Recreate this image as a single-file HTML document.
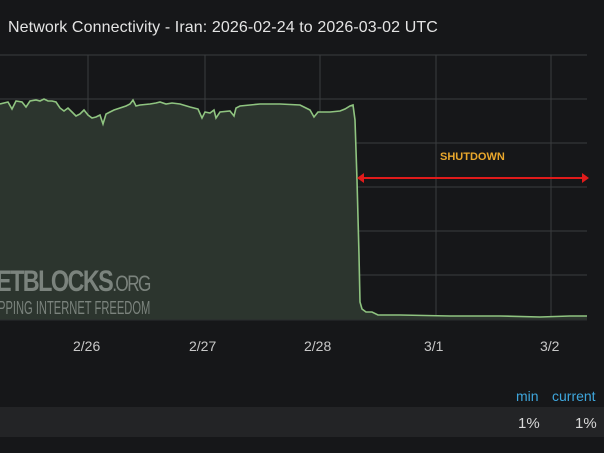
<!DOCTYPE html>
<html><head><style>
body{margin:0;width:604px;height:453px;background:#161719;overflow:hidden;font-family:"Liberation Sans",sans-serif;position:relative}
.t{position:absolute;white-space:nowrap}
</style></head><body>
<div class="t" style="left:8px;top:19px;font-size:16px;color:#e4e4e4;letter-spacing:0.1px">Network Connectivity - Iran: 2026-02-24 to 2026-03-02 UTC</div>
<svg width="604" height="453" style="position:absolute;left:0;top:0">
<g stroke="#3a3c3e" stroke-width="1">
<line x1="0" y1="55" x2="587" y2="55"/><line x1="0" y1="99" x2="587" y2="99"/>
<line x1="0" y1="143" x2="587" y2="143"/><line x1="0" y1="187" x2="587" y2="187"/>
<line x1="0" y1="231" x2="587" y2="231"/><line x1="0" y1="275" x2="587" y2="275"/>
<line x1="88" y1="55" x2="88" y2="320"/><line x1="205" y1="55" x2="205" y2="320"/>
<line x1="320" y1="55" x2="320" y2="320"/><line x1="436" y1="55" x2="436" y2="320"/>
<line x1="551" y1="55" x2="551" y2="320"/>
</g>
<path d="M0,104 L8,102 L12,109 L16,101 L22,102 L26,107 L30,101 L36,100 L40,101 L44,99 L48,101 L52,101 L56,102 L60,108 L64,111 L68,108 L72,112 L76,116 L80,114 L84,110 L88,115 L92,118 L96,117 L100,115 L103,124 L106,114 L110,112 L114,110 L120,108 L126,106 L130,104 L133,100 L136,106 L140,105 L150,104 L156,103 L160,102 L166,104 L172,103 L180,104 L190,107 L198,109 L202,118 L205,112 L210,113 L214,110 L216,118 L220,112 L230,111 L234,116 L236,108 L240,106 L250,105 L260,104 L270,104 L280,104 L300,105 L306,108 L310,110 L314,117 L318,112 L330,112 L340,111 L345,109 L350,106 L353,105 L355,120 L357,180 L359,255 L360,302 L362,309 L366,312 L372,312 L378,315 L400,315 L450,316 L500,316 L540,317 L570,316 L587,316 L587,320 L0,320 Z" fill="#2c352e"/>
<path d="M0,104 L8,102 L12,109 L16,101 L22,102 L26,107 L30,101 L36,100 L40,101 L44,99 L48,101 L52,101 L56,102 L60,108 L64,111 L68,108 L72,112 L76,116 L80,114 L84,110 L88,115 L92,118 L96,117 L100,115 L103,124 L106,114 L110,112 L114,110 L120,108 L126,106 L130,104 L133,100 L136,106 L140,105 L150,104 L156,103 L160,102 L166,104 L172,103 L180,104 L190,107 L198,109 L202,118 L205,112 L210,113 L214,110 L216,118 L220,112 L230,111 L234,116 L236,108 L240,106 L250,105 L260,104 L270,104 L280,104 L300,105 L306,108 L310,110 L314,117 L318,112 L330,112 L340,111 L345,109 L350,106 L353,105 L355,120 L357,180 L359,255 L360,302 L362,309 L366,312 L372,312 L378,315 L400,315 L450,316 L500,316 L540,317 L570,316 L587,316" fill="none" stroke="#8fc480" stroke-width="1.6"/>
<line x1="0" y1="320" x2="587" y2="320" stroke="#2a2c2e"/>
<line x1="362" y1="178" x2="584" y2="178" stroke="#e01b1b" stroke-width="2"/>
<polygon points="357,178 364,173 364,183" fill="#e01b1b"/>
<polygon points="589,178 582,173 582,183" fill="#e01b1b"/>
</svg>
<div class="t" style="left:440px;top:151px;font-size:11px;font-weight:bold;color:#e9a72c">SHUTDOWN</div>
<div class="t" style="left:-4px;top:265px;font-size:30px;font-weight:bold;color:#7b837d;letter-spacing:-2px;transform:scaleX(0.78);transform-origin:left">ETBLOCKS<span style="font-weight:normal;font-size:22px">.ORG</span></div>
<div class="t" style="left:-2px;top:298px;font-size:18px;color:#7b837d;transform:scaleX(0.62);transform-origin:left">PPING INTERNET FREEDOM</div>
<div class="t" style="left:73px;top:338px;font-size:14px;color:#c8c8c8">2/26</div>
<div class="t" style="left:189px;top:338px;font-size:14px;color:#c8c8c8">2/27</div>
<div class="t" style="left:304px;top:338px;font-size:14px;color:#c8c8c8">2/28</div>
<div class="t" style="left:424px;top:338px;font-size:14px;color:#c8c8c8">3/1</div>
<div class="t" style="left:540px;top:338px;font-size:14px;color:#c8c8c8">3/2</div>
<div class="t" style="left:516px;top:388px;font-size:14px;color:#3ea6dc">min</div>
<div class="t" style="left:552px;top:388px;font-size:14px;color:#3ea6dc">current</div>
<div style="position:absolute;left:0;top:407px;width:604px;height:30px;background:#232426"></div>
<div class="t" style="left:518px;top:415px;font-size:15px;color:#d8d8d8">1%</div>
<div class="t" style="left:575px;top:415px;font-size:15px;color:#d8d8d8">1%</div>
</body></html>
